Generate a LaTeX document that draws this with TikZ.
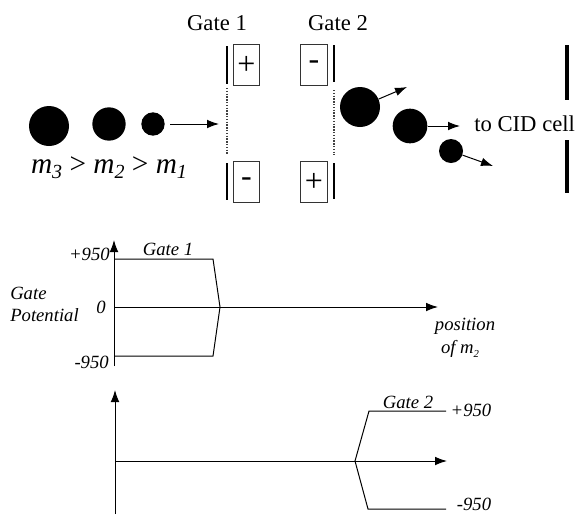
\documentclass[tikz,border=0pt]{standalone}
\usepackage{fontspec}
\setmainfont{Liberation Serif}
\usetikzlibrary{arrows.meta}
\tikzset{
  x=0.75pt,y=-0.75pt,
  thinline/.style={line width=0.75pt,black},
  arrowline/.style={thinline,-{Latex[length=9pt,width=6.5pt]}},
  gateplate/.style={line width=1pt,black},
  gaugrid/.style={line width=1.1pt,densely dotted,black!75},
  polebox/.style={draw=black!80,line width=0.6pt,minimum width=20pt,minimum height=30.5pt,inner sep=0pt,font=\fontsize{24}{26}\selectfont},
  ion/.style={circle,fill=black,inner sep=0pt},
  rmlabel/.style={font=\fontsize{17}{20}\selectfont,inner sep=0pt},
  itlabel/.style={font=\itshape\fontsize{14}{17}\selectfont,inner sep=0pt},
  exitbar/.style={line width=3pt,black}
}
\newcommand{\subsc}[2][-3pt]{\raisebox{#1}{\fontsize{11}{12}\selectfont #2}}
\begin{document}
\begin{tikzpicture}
\useasboundingbox (0,0) rectangle (580,515);
% ions entering
\node[ion,minimum size=30pt] (a3) at (49,126) {};
\node[ion,minimum size=25pt] (a2) at (109,124) {};
\node[ion,minimum size=17.5pt] (a1) at (153,124) {};
\coordinate (inA) at (170,124);
\coordinate (inB) at (219,124);
\draw[arrowline] (inA) -- (inB);
\node[inner sep=0pt,font=\itshape\fontsize{22}{24}\selectfont] (massrel) at (109,168) {m\subsc[-4pt]{\fontsize{15}{16}\selectfont 3} \upshape>\itshape{} m\subsc[-4pt]{\fontsize{15}{16}\selectfont 2} \upshape>\itshape{} m\subsc[-4pt]{\fontsize{15}{16}\selectfont 1}};
% gate 1
\node[rmlabel] (g1) at (217,23) {Gate 1};
\coordinate (g1a) at (227,46); \coordinate (g1b) at (227,84);
\coordinate (g1c) at (227,88); \coordinate (g1d) at (227,154);
\coordinate (g1e) at (227,163); \coordinate (g1f) at (227,200);
\draw[gateplate] (g1a) -- (g1b);
\draw[gaugrid] (g1c) -- (g1d);
\draw[gateplate] (g1e) -- (g1f);
\node[polebox] (p1) at (246.5,65) {+};
\node[polebox] (m1) at (246.5,182) {-};
% gate 2
\node[rmlabel] (g2) at (338,23) {Gate 2};
\coordinate (g2a) at (334,45); \coordinate (g2b) at (334,82);
\coordinate (g2c) at (334,90); \coordinate (g2d) at (334,155);
\coordinate (g2e) at (334,163); \coordinate (g2f) at (334,199);
\draw[gateplate] (g2a) -- (g2b);
\draw[gaugrid] (g2c) -- (g2d);
\draw[gateplate] (g2e) -- (g2f);
\node[polebox] (m2) at (314,65) {-};
\node[polebox] (p2) at (314,182) {+};
% ions leaving
\node[ion,minimum size=30pt] (b3) at (360,107) {};
\node[ion,minimum size=26pt] (b2) at (410,126) {};
\node[ion,minimum size=18pt] (b1) at (451,151) {};
\coordinate (t3) at (407,87);
\coordinate (t2) at (460,126);
\coordinate (t1) at (493,166);
\draw[arrowline] (b3) -- (t3);
\draw[arrowline] (b2.east) -- (t2);
\draw[arrowline] (b1) -- (t1);
\node[rmlabel,anchor=west] (cid) at (474,124) {to CID cell};
\coordinate (x1) at (567,45); \coordinate (x2) at (567,100);
\coordinate (x3) at (567,140); \coordinate (x4) at (567,193);
\draw[exitbar] (x1) -- (x2);
\draw[exitbar] (x3) -- (x4);
% plot 1
\coordinate (y1b) at (114,366); \coordinate (y1t) at (114,240);
\coordinate (x1l) at (114,307); \coordinate (x1r) at (438,307);
\draw[arrowline] (y1b) -- (y1t);
\draw[arrowline] (x1l) -- (x1r);
\coordinate (u1a) at (114,259); \coordinate (u1b) at (213,259);
\coordinate (tip1) at (220,307);
\coordinate (l1a) at (114,356); \coordinate (l1b) at (213,356);
\draw[thinline] (u1a) -- (u1b) -- (tip1) -- (l1b) -- (l1a);
\node[itlabel,anchor=east] (v1p) at (110,254) {+950};
\node[itlabel] (v10) at (101,307) {0};
\node[itlabel,anchor=east] (v1m) at (109,362) {-950};
\node[itlabel] (lg1) at (168,249) {Gate 1};
\node[itlabel,anchor=west] (gp1) at (10,293) {Gate};
\node[itlabel,anchor=west] (gp2) at (10,315) {Potential};
\node[itlabel] (pos) at (465,326) {position};
\node[itlabel] (ofm) at (460,349) {of m\subsc{\fontsize{8}{9}\selectfont 2}};
% plot 2
\coordinate (y2b) at (115,514); \coordinate (y2t) at (115,390);
\coordinate (x2l) at (115,461); \coordinate (x2r) at (447,461);
\draw[arrowline] (y2b) -- (y2t);
\draw[arrowline] (x2l) -- (x2r);
\coordinate (tip2) at (355,461);
\coordinate (u2a) at (369,411); \coordinate (u2b) at (446,411);
\coordinate (l2a) at (368,509); \coordinate (l2b) at (446,509);
\draw[thinline] (u2b) -- (u2a) -- (tip2) -- (l2a) -- (l2b);
\node[itlabel] (lg2) at (408,402) {Gate 2};
\node[itlabel] (v2p) at (471,410) {+950};
\node[itlabel] (v2m) at (474,504) {-950};
\end{tikzpicture}
\end{document}
